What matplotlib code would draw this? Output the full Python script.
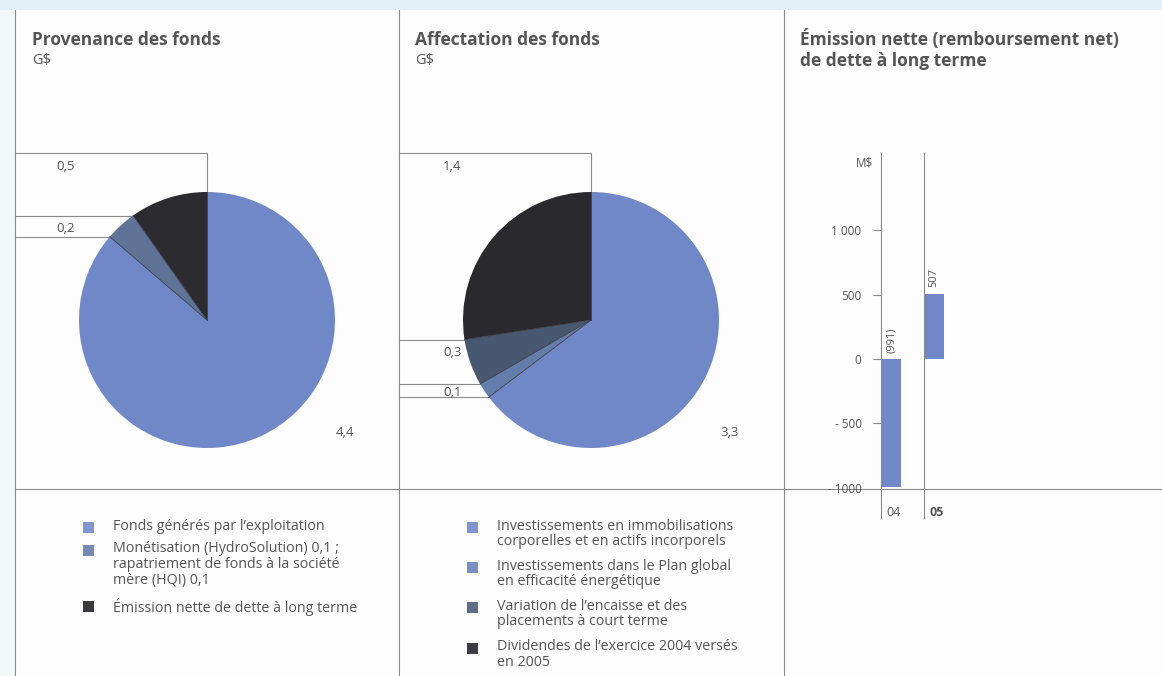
import numpy as np
import matplotlib
matplotlib.use('Agg')
import matplotlib.pyplot as plt
from matplotlib.patches import Rectangle

plt.rcParams['font.family'] = ['Open Sans', 'DejaVu Sans']

# --- données ---
provenance_vals = [4.4, 0.2, 0.5]
provenance_labels = ['4,4', '0,2', '0,5']
provenance_colors = ['#7088c8', '#5f7396', '#2b2b30']
provenance_legend = ["Fonds générés par l’exploitation",
                     "Monétisation (HydroSolution) 0,1 ;\nrapatriement de fonds à la société\nmère (HQI) 0,1",
                     "Émission nette de dette à long terme"]
provenance_legend_colors = ['#8096d0', '#7488b4', '#3a3a3e']

affectation_vals = [3.3, 0.1, 0.3, 1.4]
affectation_labels = ['3,3', '0,1', '0,3', '1,4']
affectation_colors = ['#7088c8', '#647daa', '#485870', '#2a2a2e']
affectation_legend = ["Investissements en immobilisations\ncorporelles et en actifs incorporels",
                      "Investissements dans le Plan global\nen efficacité énergétique",
                      "Variation de l’encaisse et des\nplacements à court terme",
                      "Dividendes de l’exercice 2004 versés\nen 2005"]
affectation_legend_colors = ['#8094cf', '#7a8fc0', '#5d6d88', '#3b3b40']

annees = ['04', '05']
emission = [-991, 507]
emission_labels = ['(991)', '507']
yticks = [-1000, -500, 0, 500, 1000]
yticklabels = ['- 1000', '- 500', '0', '500', '1 000']

W, H = 1162, 676
TXT = '#555555'
LINE = '#8a8a8a'


def px_rect(x0, y0, w, h):
    return [x0 / W, 1 - (y0 + h) / H, w / W, h / H]


fig = plt.figure(figsize=(W / 100, H / 100), dpi=100, facecolor='#fdfdfd')

# calque en pixels pour textes et filets
bg = fig.add_axes([0, 0, 1, 1], zorder=0)
bg.set_xlim(0, W)
bg.set_ylim(H, 0)
bg.axis('off')
bg.add_patch(Rectangle((0, 0), W, 10, color='#e3f1f7', lw=0))
bg.add_patch(Rectangle((0, 10), 15, H, color='#f2f7f9', lw=0))

for x in [15, 399, 784]:
    bg.plot([x, x], [10, H], color=LINE, lw=0.8)
bg.plot([15, W], [489, 489], color=LINE, lw=0.8)

bg.text(32, 45, 'Provenance des fonds', fontsize=12.5, fontweight='bold', color=TXT)
bg.text(32, 64, 'G$', fontsize=10.5, color=TXT)
bg.text(415, 45, 'Affectation des fonds', fontsize=12.5, fontweight='bold', color=TXT)
bg.text(415, 64, 'G$', fontsize=10.5, color=TXT)
bg.text(800, 45, 'Émission nette (remboursement net)', fontsize=12.5, fontweight='bold', color=TXT)
bg.text(800, 66, 'de dette à long terme', fontsize=12.5, fontweight='bold', color=TXT)


def draw_pie(cx, cy, r, vals, colors):
    ax = fig.add_axes(px_rect(cx - r, cy - r, 2 * r, 2 * r), zorder=2)
    ax.pie(vals, colors=colors, startangle=90, counterclock=False, radius=1,
           wedgeprops=dict(linewidth=0))
    ax.set_xlim(-1, 1)
    ax.set_ylim(-1, 1)
    ax.set_aspect('equal')
    # angles des frontières entre parts
    cum = np.concatenate([[0], np.cumsum(vals) / np.sum(vals)])
    angles = 90 - 360 * cum[:-1]
    for a in angles:
        ax.plot([0, np.cos(np.radians(a))], [0, np.sin(np.radians(a))],
                color='#3a3a44', lw=0.6)
    pts = [(cx + r * np.cos(np.radians(a)), cy - r * np.sin(np.radians(a)))
           for a in 90 - 360 * cum[1:]]
    return pts


# --- camembert 1 ---
c1x, c1y, R = 207, 320, 128
pts1 = draw_pie(c1x, c1y, R, provenance_vals, provenance_colors)
bg.plot([15, c1x, c1x], [153, 153, c1y - R], color=LINE, lw=0.8)
for p in pts1[:2]:
    bg.plot([15, p[0]], [p[1], p[1]], color=LINE, lw=0.8)
bg.text(56, 166, provenance_labels[2], fontsize=9.5, color=TXT, va='center')
bg.text(56, 229, provenance_labels[1], fontsize=9.5, color=TXT, va='center')
bg.text(336, 432, provenance_labels[0], fontsize=9.5, color=TXT, va='center')

# --- camembert 2 ---
c2x = 591
pts2 = draw_pie(c2x, c1y, R, affectation_vals, affectation_colors)
bg.plot([399, c2x, c2x], [153, 153, c1y - R], color=LINE, lw=0.8)
for p in pts2[:3]:
    bg.plot([399, p[0]], [p[1], p[1]], color=LINE, lw=0.8)
bg.text(443, 166, affectation_labels[3], fontsize=9.5, color=TXT, va='center')
bg.text(443, 353, affectation_labels[2], fontsize=9.5, color=TXT, va='center')
bg.text(443, 392, affectation_labels[1], fontsize=9.5, color=TXT, va='center')
bg.text(720, 432, affectation_labels[0], fontsize=9.5, color=TXT, va='center')

# --- légendes ---
leg1_y = [527, 550, 606]
for y, lab, col in zip(leg1_y, provenance_legend, provenance_legend_colors):
    bg.add_patch(Rectangle((83, y - 5.5), 11, 11, color=col, lw=0))
    bg.text(113, y - 8.5, lab, fontsize=10.3, color=TXT, va='top', linespacing=1.08)

leg2_y = [527, 567, 607, 648]
for y, lab, col in zip(leg2_y, affectation_legend, affectation_legend_colors):
    bg.add_patch(Rectangle((467, y - 5.5), 11, 11, color=col, lw=0))
    bg.text(497, y - 8.5, lab, fontsize=10.3, color=TXT, va='top', linespacing=1.08)

# --- barres ---
bx0, step = 881, 43
axb = fig.add_axes(px_rect(bx0, 153, 2 * step, 489 - 153), zorder=3)
axb.patch.set_alpha(0)
x = np.arange(len(annees))
axb.bar(x, emission, width=20 / step, align='edge', color='#7088c8')
axb.set_xlim(0, 2)
axb.set_ylim(-1010, 1600)
for s in ['top', 'right', 'bottom']:
    axb.spines[s].set_visible(False)
axb.spines['left'].set_color(LINE)
axb.spines['left'].set_linewidth(0.8)
axb.set_xticks([])
axb.set_yticks(yticks)
axb.set_yticklabels(yticklabels, fontsize=8.5, color=TXT)
axb.tick_params(axis='y', length=6, width=0.8, color=LINE, pad=8)
axb.yaxis.get_major_ticks()[0].tick1line.set_visible(False)
axb.axvline(1, color=LINE, lw=0.8)
for xi, v, lab in zip(x, emission, emission_labels):
    axb.text(xi + 10 / step, max(v, 0) + 50, lab, rotation=90, fontsize=8,
             color=TXT, ha='center', va='bottom')
axb.text(-0.58, 1520, 'M$', fontsize=8.5, color=TXT, ha='left', va='center')
for xi, lab in zip(x, annees):
    px = bx0 + xi * step
    bg.plot([px, px], [489, 518], color=LINE, lw=0.8)
    bg.text(px + 5, 512, lab, fontsize=9, color=TXT, va='center',
            fontweight='bold' if lab == '05' else 'normal')

fig.savefig('out.png', dpi=100, facecolor=fig.get_facecolor())
